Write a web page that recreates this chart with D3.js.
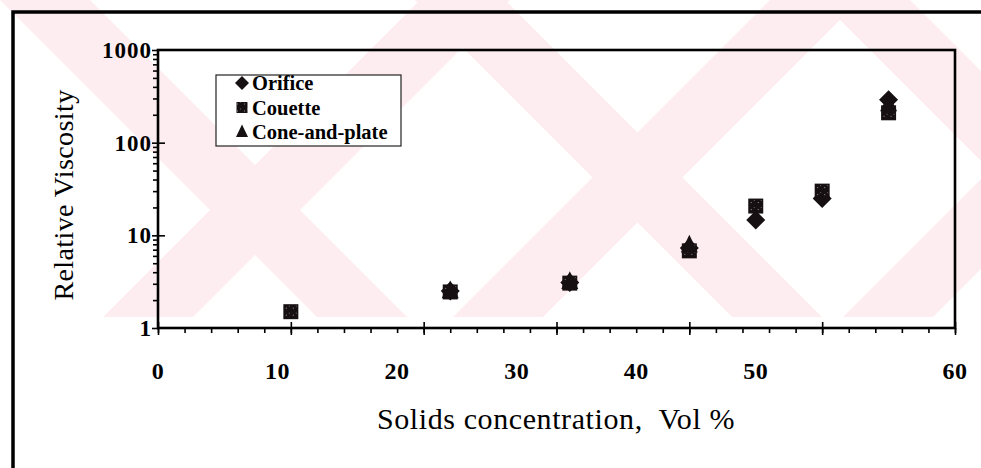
<!DOCTYPE html>
<html><head><meta charset="utf-8">
<script src="https://cdn.jsdelivr.net/npm/d3@7"></script>
<style>
html,body{margin:0;padding:0;background:#fff;}
svg{display:block;}
</style></head><body>
<svg id="chart" width="981" height="468"></svg>
<script>
// ---- data ----
const xTickValues = [0, 10, 20, 30, 40, 50, 60];
const yTickValues = [1, 10, 100, 1000];
const seriesNames = ["Orifice", "Couette", "Cone-and-plate"];
const orificeConc = [22, 31, 40, 45, 50, 55];
const orificeVisc = [2.5, 3.1, 7.3, 14.6, 25, 290];
const couetteConc = [10, 22, 31, 40, 45, 50, 55];
const couetteVisc = [1.5, 2.45, 3.05, 6.8, 20.7, 30, 210];
const coneConc = [22, 31, 40, 55];
const coneVisc = [2.5, 3.15, 7.8, 260];

const svg = d3.select("#chart");
const W = 981, H = 468;
const ink = "#161012";
const serif = "Liberation Serif";

// ---- scales ----
const x = d3.scaleLinear().domain([0, 60]).range([158, 955]);
const y = d3.scaleLog().domain([1, 1000]).range([328, 50]);
// numerals of the x axis run on their own evenly spaced track
const xNumeral = d3.scaleLinear().domain([0, 50, 60]).range([x(0), x(45), x(60)]);

const defs = svg.append("defs");
defs.append("clipPath").attr("id", "wmClip")
  .append("rect").attr("x", 0).attr("y", 0).attr("width", W).attr("height", 317);
const speck = defs.append("pattern").attr("id", "speck")
  .attr("width", 7).attr("height", 7).attr("patternUnits", "userSpaceOnUse");
speck.append("rect").attr("width", 7).attr("height", 7).attr("fill", ink);
speck.append("rect").attr("x", 2).attr("y", 3).attr("width", 1).attr("height", 1).attr("fill", "#9a9094");
speck.append("rect").attr("x", 5).attr("y", 1).attr("width", 1).attr("height", 1).attr("fill", "#6d6366");

// ---- faint diagonal band watermark behind the chart ----
const wm = svg.append("g").attr("clip-path", "url(#wmClip)").attr("fill", "#fdedf0");
const bandH = 317;
const backBands = [0, 415, 820];     // x - y offsets
const fwdBands = [420, 770, 1160];   // x + y offsets
const bandW = 90;
backBands.forEach(c => {
  wm.append("path").attr("d",
    `M${c},0L${c + bandW},0L${c + bandW + bandH},${bandH}L${c + bandH},${bandH}Z`);
});
fwdBands.forEach(c => {
  wm.append("path").attr("d",
    `M${c},0L${c + bandW},0L${c + bandW - bandH},${bandH}L${c - bandH},${bandH}Z`);
});

// outer page frame
svg.append("path").attr("d", `M13,${H + 5}V12H${W + 5}`)
  .attr("fill", "none").attr("stroke", "#000").attr("stroke-width", 3.5);

// ---- axes ticks ----
const minorX = d3.range(0, 61, 2);
const minorY = [];
[1, 10, 100].forEach(d => { for (let k = 2; k <= 9; k++) minorY.push(d * k); });

function clean(g) {
  g.select(".domain").remove();
  g.selectAll("line").attr("stroke", "#000").attr("stroke-width", 1.6);
  g.selectAll("text").remove();
}
svg.append("g").attr("transform", "translate(0,328)")
  .call(d3.axisBottom(x).tickValues(minorX).tickSize(5).tickFormat("")).call(clean);
svg.append("g").attr("transform", "translate(0,328)")
  .call(d3.axisBottom(x).tickValues(xTickValues).tickSize(7).tickFormat("")).call(clean);
svg.append("g").attr("transform", "translate(0,328)")
  .call(d3.axisTop(x).tickValues(xTickValues).tickSize(6).tickFormat("")).call(clean);
svg.append("g").attr("transform", "translate(158,0)")
  .call(d3.axisLeft(y).tickValues(minorY).tickSize(5).tickFormat("")).call(clean);
svg.append("g").attr("transform", "translate(158,0)")
  .call(d3.axisLeft(y).tickValues(yTickValues).tickSize(6).tickFormat("")).call(clean);
svg.append("g").attr("transform", "translate(158,0)")
  .call(d3.axisRight(y).tickValues(yTickValues.slice(1, 3)).tickSize(7).tickFormat("")).call(clean);

// plot frame
svg.append("rect")
  .attr("x", x(0)).attr("y", y(1000))
  .attr("width", x(60) - x(0)).attr("height", y(1) - y(1000))
  .attr("fill", "none").attr("stroke", "#000").attr("stroke-width", 2.6);

// tick numerals
svg.append("g").selectAll("text").data(xTickValues).join("text")
  .attr("x", d => xNumeral(d)).attr("y", 379)
  .attr("text-anchor", "middle").attr("font-family", serif)
  .attr("font-size", 24).attr("font-weight", "bold").attr("letter-spacing", 0.5)
  .attr("fill", "#000").text(d => d);
svg.append("g").selectAll("text").data(yTickValues).join("text")
  .attr("x", 152).attr("y", d => y(d)).attr("dy", "0.35em")
  .attr("text-anchor", "end").attr("font-family", serif)
  .attr("font-size", 23).attr("font-weight", "bold").attr("letter-spacing", 1)
  .attr("fill", "#000").text(d => d);

// axis titles
svg.append("text").attr("transform", "translate(73,195) rotate(-90)")
  .attr("text-anchor", "middle").attr("font-family", serif)
  .attr("font-size", 28).attr("letter-spacing", 0.4).attr("fill", "#000")
  .text("Relative Viscosity");
svg.append("text").attr("x", 556).attr("y", 429)
  .attr("text-anchor", "middle").attr("font-family", serif)
  .attr("font-size", 30).attr("letter-spacing", 0.6).attr("fill", "#000")
  .style("white-space", "pre")
  .text("Solids concentration,  Vol %");

// ---- marker shapes ----
const diamond = r => `M0,${-r}L${r},0L0,${r}L${-r},0Z`;
const square = s => `M${-s / 2},${-s / 2}h${s}v${s}h${-s}Z`;
const triangle = s => `M0,${-s * 0.62}L${s / 2},${s * 0.42}L${-s / 2},${s * 0.42}Z`;
const markers = [
  { name: seriesNames[0], xs: orificeConc, ys: orificeVisc, d: diamond(9.5), fill: ink },
  { name: seriesNames[1], xs: couetteConc, ys: couetteVisc, d: square(15), fill: "url(#speck)" },
  { name: seriesNames[2], xs: coneConc, ys: coneVisc, d: triangle(17), fill: ink }
];
markers.forEach(m => {
  svg.append("g").selectAll("path").data(m.xs.map((c, i) => [c, m.ys[i]])).join("path")
    .attr("transform", p => `translate(${x(p[0])},${y(p[1])})`)
    .attr("d", m.d).attr("fill", m.fill);
});

// ---- legend ----
const lg = svg.append("g").attr("transform", "translate(216,75)");
lg.append("rect").attr("width", 185).attr("height", 71)
  .attr("fill", "#fff").attr("stroke", "#222").attr("stroke-width", 1.2);
const legendMarks = [diamond(7), square(11), triangle(12)];
markers.forEach((m, i) => {
  const row = lg.append("g").attr("transform", `translate(26,${8 + i * 24.5})`);
  row.append("path").attr("d", legendMarks[i]).attr("fill", m.fill);
  row.append("text").attr("x", 10).attr("dy", "0.35em").attr("font-family", serif)
    .attr("font-size", 20.5).attr("font-weight", "bold").attr("fill", "#000").text(m.name);
});
</script>
</body></html>
